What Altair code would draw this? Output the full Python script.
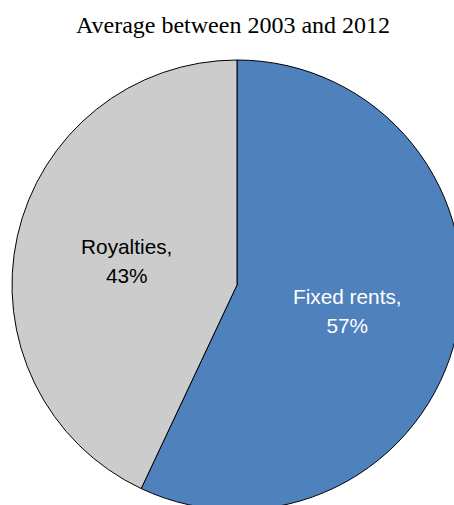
import altair as alt
import pandas as pd

categories = ["Fixed rents", "Royalties"]
shares = [57, 43]
labels = ["Fixed rents,\n57%", "Royalties,\n43%"]
title_text = ["Average between 2003 and 2012"]

colors = ["#4F81BD", "#CCCCCC"]

df = pd.DataFrame({"category": categories, "share": shares, "label": labels,
                   "order": list(range(len(categories)))})
tdf = pd.DataFrame({"t": title_text})

CX, CY, R = 237, 285, 225

base = alt.Chart(df).encode(
    theta=alt.Theta("share:Q", stack=True),
    order=alt.Order("order:Q"),
)

arcs = base.mark_arc(stroke="#000000", strokeWidth=1, clip=True).encode(
    x=alt.value(CX), y=alt.value(CY),
    radius=alt.value(R),
    color=alt.Color("category:N", scale=alt.Scale(domain=categories, range=colors), legend=None),
)

text = base.mark_text(
    font="Liberation Sans", fontSize=20.8, lineBreak="\n", lineHeight=29,
    align="center", baseline="middle", dy=-12,
).encode(
    x=alt.value(CX), y=alt.value(CY),
    radius=alt.value(113),
    text="label:N",
    color=alt.condition(alt.datum.category == "Fixed rents", alt.value("white"), alt.value("black")),
)

title = alt.Chart(tdf).mark_text(
    font="Liberation Serif", fontSize=24, align="center", baseline="alphabetic", color="black"
).encode(x=alt.value(233), y=alt.value(32.5), text="t:N")

chart = alt.layer(arcs, text, title).properties(
    width=454, height=505, autosize=alt.AutoSizeParams(type="none"), padding=0
).configure_view(stroke=None)

chart.save("out.html", embed_options={"renderer": "svg", "actions": False})
